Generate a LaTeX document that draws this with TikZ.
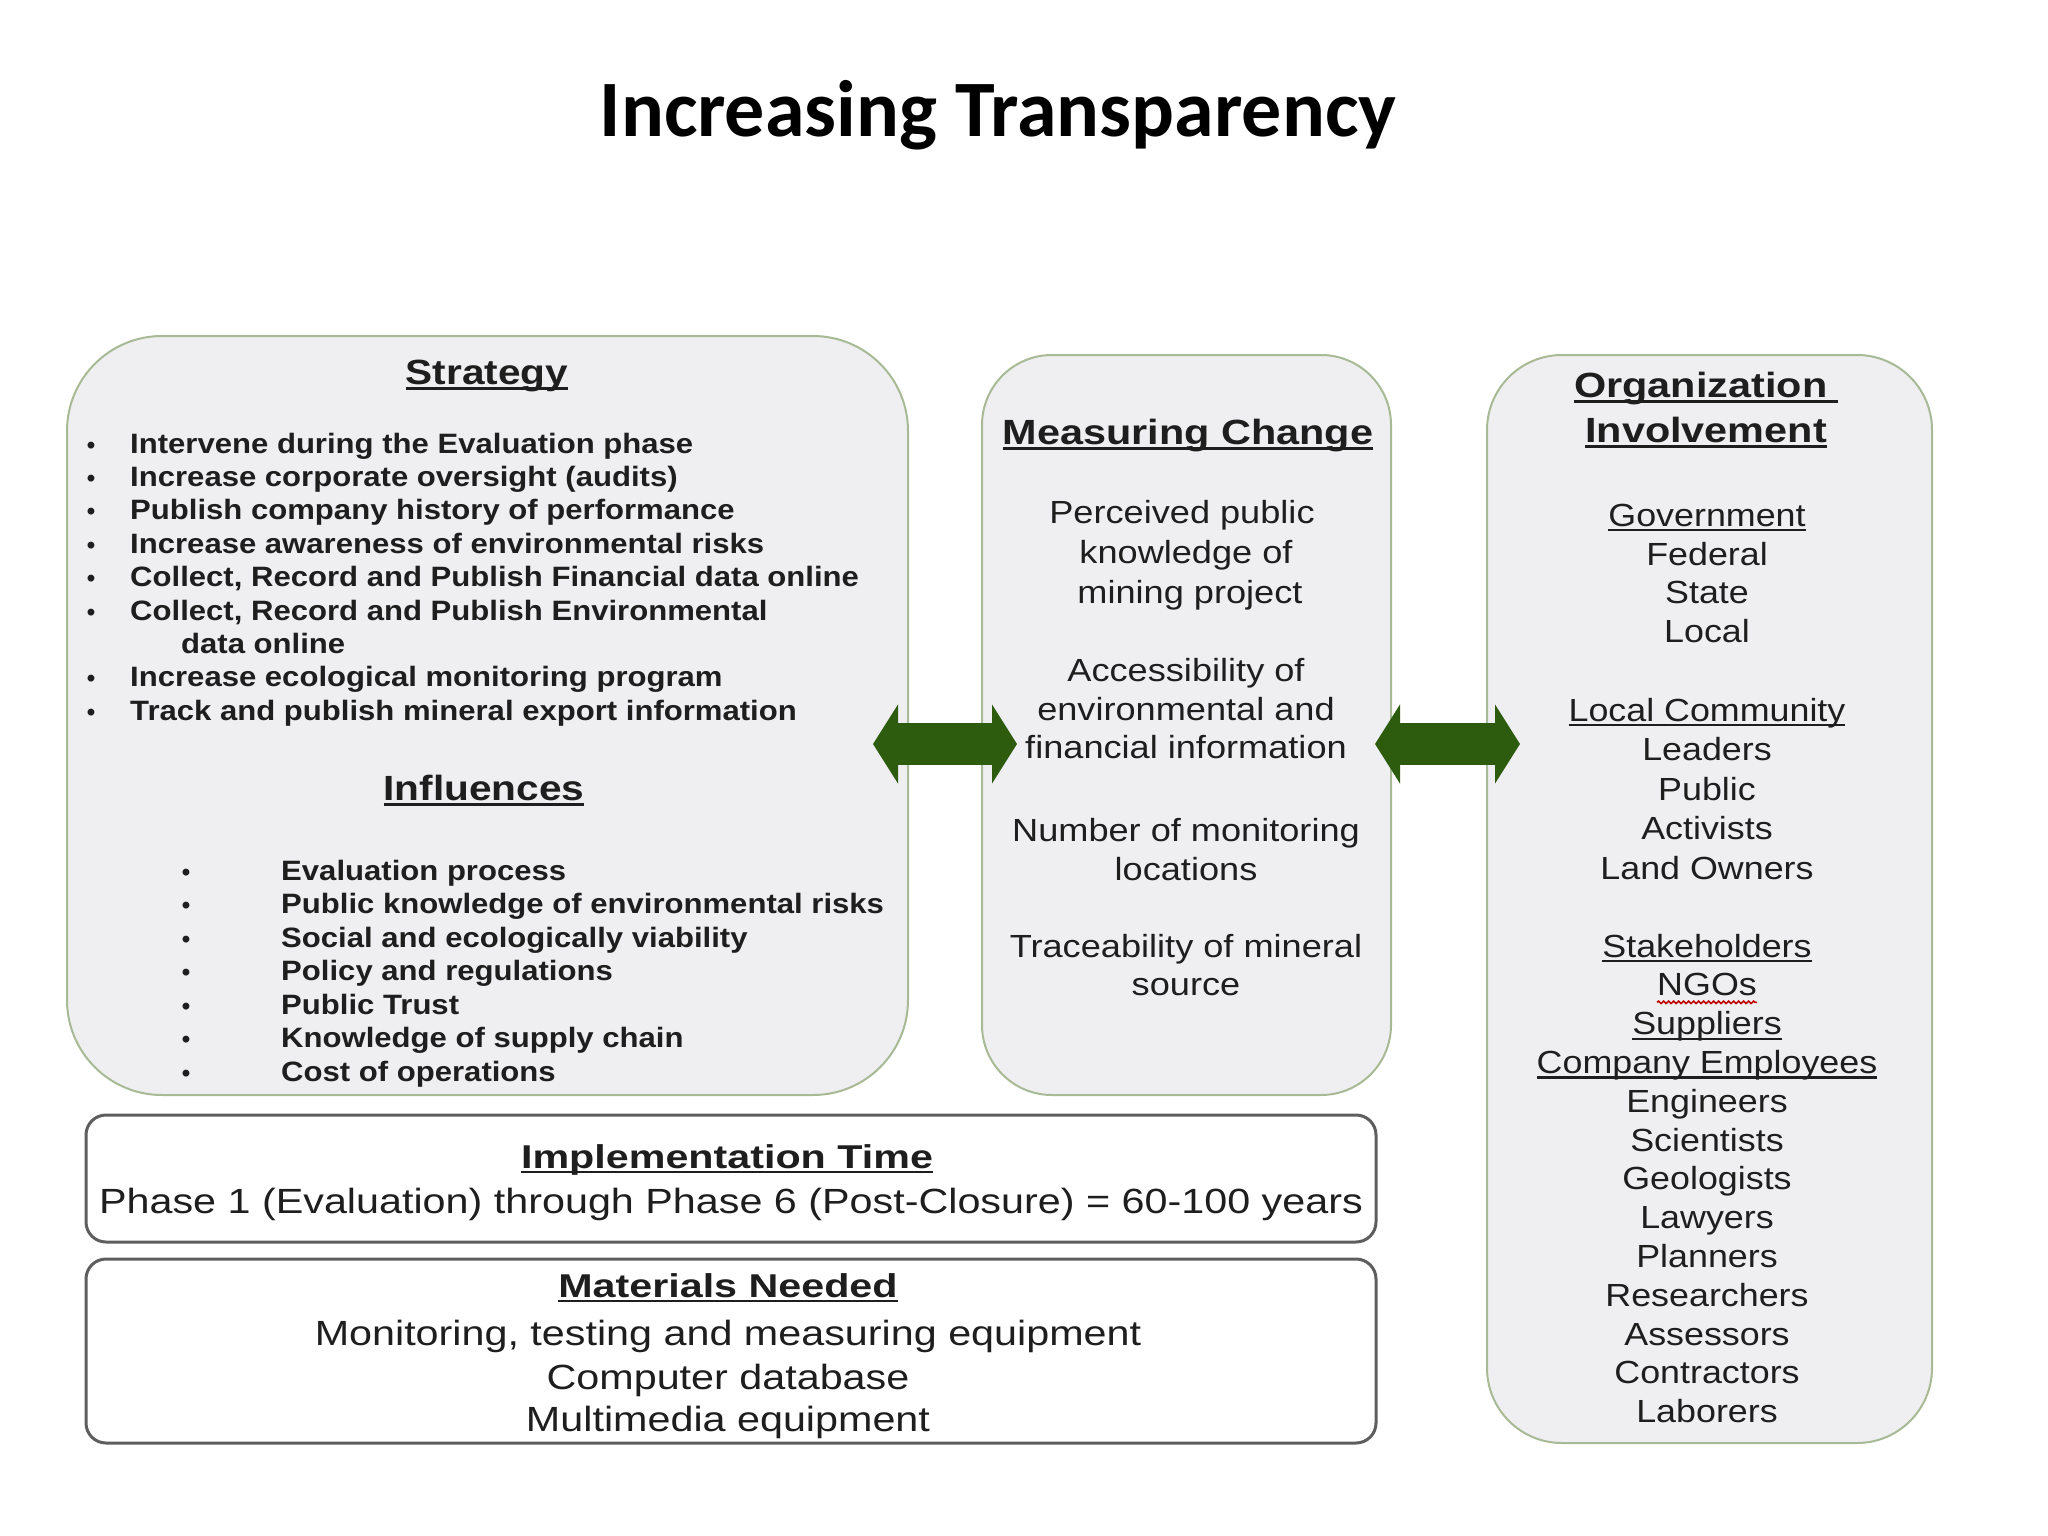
\documentclass[tikz,border=0pt]{standalone}
\usepackage{fontspec}
\setmainfont{Liberation Sans}
\newfontfamily\titlefont{Carlito}
\usetikzlibrary{arrows.meta,decorations.pathmorphing}
\definecolor{boxedge}{HTML}{A8BA95}
\definecolor{boxfill}{HTML}{EFEFF1}
\definecolor{arrowgreen}{HTML}{2E5C0E}
\definecolor{txt}{HTML}{1E1E1E}
\definecolor{bottomedge}{HTML}{5E5E5E}
\newsavebox\ulbox
\newcommand\myul[1]{\sbox\ulbox{#1}\rlap{\usebox\ulbox}\rule[-0.16em]{\wd\ulbox}{0.065em}}
\begin{document}
\begin{tikzpicture}[x=1pt,y=-1pt,
  gbox/.style={draw=boxedge, fill=boxfill, line width=2pt, inner sep=0pt, outer sep=0pt},
  wbox/.style={draw=bottomedge, fill=white, line width=3pt, rounded corners=20pt, inner sep=0pt, outer sep=0pt},
  stitle/.style={anchor=base, inner sep=0pt, text=txt, font=\fontsize{35}{40}\selectfont\bfseries, xscale=1.16, transform shape},
  sitem/.style={anchor=base west, inner sep=0pt, text=txt, font=\fontsize{28}{33}\selectfont\bfseries, xscale=1.11, transform shape},
  sbul/.style={anchor=base, inner sep=0pt, text=txt, font=\fontsize{24}{33}\selectfont\bfseries},
  mline/.style={anchor=base, inner sep=0pt, text=txt, font=\fontsize{32}{39}\selectfont, xscale=1.13, transform shape},
  oline/.style={anchor=base, inner sep=0pt, text=txt, font=\fontsize{32}{39}\selectfont, xscale=1.12, transform shape},
  btitle/.style={anchor=base, inner sep=0pt, text=txt, font=\fontsize{33}{40}\selectfont\bfseries, xscale=1.25, transform shape},
  bline/.style={anchor=base, inner sep=0pt, text=txt, font=\fontsize{35}{42}\selectfont, xscale=1.18, transform shape},
  bigarrow/.style={draw=arrowgreen, line width=42pt, {Triangle[length=25pt,width=78pt]}-{Triangle[length=25pt,width=78pt]}},
]
\fill[white] (0,0) rectangle (2048,1536);
\useasboundingbox (0,0) rectangle (2048,1536);

% title
\node[anchor=base, inner sep=0pt, font=\titlefont\fontsize{80}{92}\selectfont\bfseries] (title) at (998,137) {Increasing Transparency};

% boxes
\node[gbox, rounded corners=95pt, minimum width=841pt, minimum height=759pt] (strat) at (487.5,715.5) {};
\node[gbox, rounded corners=70pt, minimum width=409pt, minimum height=740pt] (meas) at (1186.5,725) {};
\node[gbox, rounded corners=75pt, minimum width=445pt, minimum height=1088pt] (org) at (1709.5,899) {};
\node[wbox, minimum width=1290pt, minimum height=127pt] (impl) at (731,1178.5) {};
\node[wbox, minimum width=1290pt, minimum height=184pt] (mat) at (731,1351) {};

% arrows
\coordinate (ay) at (0,744);
\draw[bigarrow, shorten <=-35pt, shorten >=-35pt] (strat.east |- ay) -- (meas.west |- ay);
\draw[bigarrow, shorten <=-16pt, shorten >=-33pt] (meas.east |- ay) -- (org.west |- ay);

% Strategy
\node[stitle] (stratT) at (487,384) {\myul{Strategy}};
\node[sbul] (sb1) at (91,453) {•};
\node[sitem] (s1) at (130,453) {Intervene during the Evaluation phase};
\node[sbul] (sb2) at (91,486.4) {•};
\node[sitem] (s2) at (130,486.4) {Increase corporate oversight (audits)};
\node[sbul] (sb3) at (91,519.8) {•};
\node[sitem] (s3) at (130,519.8) {Publish company history of performance};
\node[sbul] (sb4) at (91,553.2) {•};
\node[sitem] (s4) at (130,553.2) {Increase awareness of environmental risks};
\node[sbul] (sb5) at (91,586.6) {•};
\node[sitem] (s5) at (130,586.6) {Collect, Record and Publish Financial data online};
\node[sbul] (sb6) at (91,620) {•};
\node[sitem] (s6) at (130,620) {Collect, Record and Publish Environmental};
\node[sitem] (s6b) at (181,653.4) {data online};
\node[sbul] (sb7) at (91,686.8) {•};
\node[sitem] (s7) at (130,686.8) {Increase ecological monitoring program};
\node[sbul] (sb8) at (91,720.2) {•};
\node[sitem] (s8) at (130,720.2) {Track and publish mineral export information};

% Influences
\node[stitle] (inflT) at (484,800) {\myul{Influences}};
\node[sbul] (ib1) at (186,880) {•};
\node[sitem] (i1) at (281,880) {Evaluation process};
\node[sbul] (ib2) at (186,913.5) {•};
\node[sitem] (i2) at (281,913.5) {Public knowledge of environmental risks};
\node[sbul] (ib3) at (186,947) {•};
\node[sitem] (i3) at (281,947) {Social and ecologically viability};
\node[sbul] (ib4) at (186,980.5) {•};
\node[sitem] (i4) at (281,980.5) {Policy and regulations};
\node[sbul] (ib5) at (186,1014) {•};
\node[sitem] (i5) at (281,1014) {Public Trust};
\node[sbul] (ib6) at (186,1047.5) {•};
\node[sitem] (i6) at (281,1047.5) {Knowledge of supply chain};
\node[sbul] (ib7) at (186,1081) {•};
\node[sitem] (i7) at (281,1081) {Cost of operations};

% Measuring Change
\node[stitle, xscale=1.02] (measT) at (1188,444) {\myul{Measuring Change}};
\node[mline] (m1) at (1182,523) {Perceived public};
\node[mline] (m2) at (1186,563) {knowledge of};
\node[mline] (m3) at (1190,603) {mining project};
\node[mline] (m4) at (1186,681) {Accessibility of};
\node[mline] (m5) at (1186,720) {environmental and};
\node[mline] (m6) at (1186,758) {financial information};
\node[mline] (m7) at (1186,841) {Number of monitoring};
\node[mline] (m8) at (1186,880) {locations};
\node[mline] (m9) at (1186,957) {Traceability of mineral};
\node[mline] (m10) at (1186,995) {source};

% Organization Involvement
\node[stitle, xscale=1.02] (orgT1) at (1706,397) {\myul{Organization\hspace{0.25em}}};
\node[stitle, xscale=1.02] (orgT2) at (1706,442) {\myul{Involvement}};
\node[oline] (o1) at (1707,526) {\myul{Government}};
\node[oline] (o2) at (1707,565) {Federal};
\node[oline] (o3) at (1707,603) {State};
\node[oline] (o4) at (1707,642) {Local};
\node[oline] (o5) at (1707,721) {\myul{Local Community}};
\node[oline] (o6) at (1707,760.5) {Leaders};
\node[oline] (o7) at (1707,800) {Public};
\node[oline] (o8) at (1707,839.5) {Activists};
\node[oline] (o9) at (1707,879) {Land Owners};
\node[oline] (o10) at (1707,957) {\myul{Stakeholders}};
\node[oline] (ngos) at (1707,995.8) {NGOs};
\node[oline] (o12) at (1707,1034.6) {\myul{Suppliers}};
\node[oline] (o13) at (1707,1073.4) {\myul{Company Employees}};
\node[oline] (o14) at (1707,1112.2) {Engineers};
\node[oline] (o15) at (1707,1151) {Scientists};
\node[oline] (o16) at (1707,1189.8) {Geologists};
\node[oline] (o17) at (1707,1228.6) {Lawyers};
\node[oline] (o18) at (1707,1267.4) {Planners};
\node[oline] (o19) at (1707,1306.2) {Researchers};
\node[oline] (o20) at (1707,1345) {Assessors};
\node[oline] (o21) at (1707,1383.8) {Contractors};
\node[oline] (o22) at (1707,1422.6) {Laborers};
\draw[red!75!black, line width=1.6pt, decorate, decoration={snake, amplitude=1.2pt, segment length=5pt}]
  ([yshift=-6pt]ngos.south west) -- ([yshift=-6pt]ngos.south east);

% bottom boxes
\node[btitle] (implT) at (727,1168) {\myul{Implementation Time}};
\node[bline] (impl1) at (731,1213) {Phase 1 (Evaluation) through Phase 6 (Post-Closure) = 60-100 years};
\node[btitle] (matT) at (728,1297) {\myul{Materials Needed}};
\node[bline] (mat1) at (728,1345) {Monitoring, testing and measuring equipment};
\node[bline] (mat2) at (728,1389) {Computer database};
\node[bline] (mat3) at (728,1431) {Multimedia equipment};
\end{tikzpicture}
\end{document}
